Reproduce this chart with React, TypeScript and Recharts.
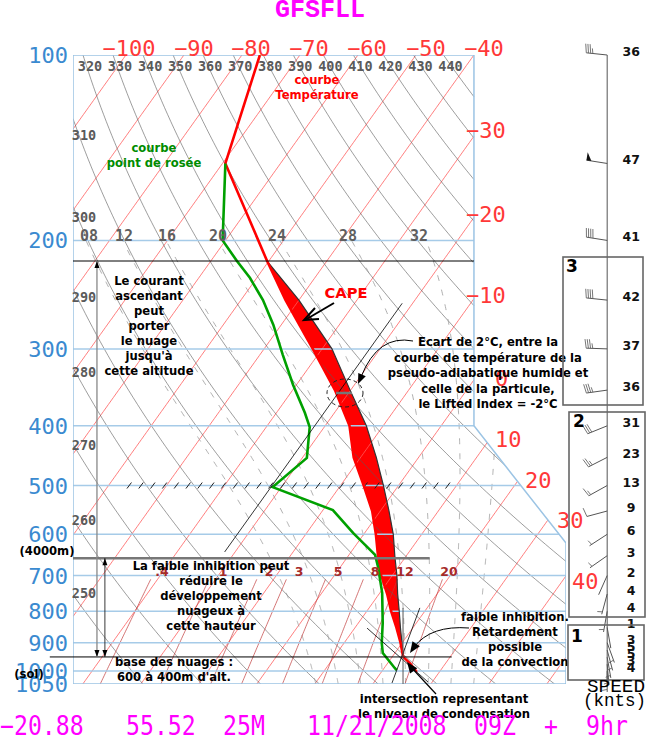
import React from "react";
import {
  ComposedChart,
  Line,
  Area,
  XAxis,
  YAxis,
  ReferenceLine,
  ReferenceDot,
} from "recharts";

const W = 647;
const H = 740;

// sounding (hPa, °C)
const tempP = [100, 150, 216, 250, 300, 350, 400, 450, 500, 550, 600, 650, 700, 750, 800, 850, 900, 949, 971, 1004];
const tempC = [-76.9, -69.5, -50.3, -42.3, -31.6, -22.7, -15.8, -11.2, -6.0, -1.4, 2.1, 5.1, 8.1, 11.4, 14.2, 17.1, 19.7, 21.9, 23.8, 26.1];
const dewP = [150, 200, 216, 230, 250, 274, 307, 343, 381, 402, 451, 503, 548, 597, 648, 678, 747, 836, 901, 935, 989, 997];
const dewC = [-69.5, -60.5, -55.5, -51.2, -46.2, -41.4, -36.0, -30.6, -25.1, -22.5, -19.2, -21.5, -8.3, -2.0, 4.5, 6.5, 10.4, 14.2, 16.5, 17.9, 21.8, 22.4];
// lifted parcel, LCL -> equilibrium level (same levels as tempP[2..17])
const parcelP = [216, 250, 300, 350, 400, 450, 500, 550, 600, 650, 700, 750, 800, 850, 900, 949];
const parcelC = [-50.3, -40.0, -28.3, -20.1, -12.9, -7.3, -2.6, 1.5, 5.1, 8.0, 10.8, 13.2, 15.6, 17.8, 19.95, 21.9];

// winds
const windP = [100, 150, 200, 250, 300, 350, 400, 450, 500, 550, 600, 650, 700, 750, 800, 850, 900, 925, 950, 975, 1000];
const windKt = [36, 47, 41, 42, 37, 36, 31, 23, 13, 9, 6, 3, 2, 4, 4, 1, 3, 5, 5, 3, 4];
const windDir = [276, 279, 279, 276, 272, 262, 248, 243, 241, 255, 237, 235, 204, 195, 190, 170, 160, 165, 170, 175, 180];

const pressureTicks = [100, 200, 300, 400, 500, 600, 700, 800, 900, 1000, 1050];
const isotherms = [-100, -90, -80, -70, -60, -50, -40, -30, -20, -10, 0, 10, 20, 30, 40, 50];
const dryThetas = [250, 260, 270, 280, 290, 300, 310, 320, 330, 340, 350, 360, 370, 380, 390, 400, 410, 420, 430, 440];
const moistThetaW = [8, 12, 16, 20, 24, 28, 32, 36];
const mixRatios = [0.4, 1, 2, 3, 5, 8, 12, 20];
const topIsoLabels = [-100, -90, -80, -70, -60, -50, -40];
const rightIsoLabels = [-30, -20, -10, 0, 10, 20, 30, 40];
const topDryLabels = [320, 330, 340, 350, 360, 370, 380, 390, 400, 410, 420, 430, 440];
const leftDryLabels = [310, 300, 290, 280, 270, 260, 250];
const moistLabels = ["08", "12", "16", "20", "24", "28", "32"];

const EL_P = 216;
const LCL_P = 949;
const H4000_P = 656;

// skewed x coordinate: equals the temperature at 1000 hPa
const SKEW = 32.93;
const X_MIN = -33.3;
const X_MAX = 51.7;
const X_R = 35.83;
const P_R1 = 400;
const P_R2 = 620;
const X_WIND = 58.8;

const skewX = (t: number, p: number) => t - SKEW * Math.log(p / 1000);

const rightBound = (p: number) => {
  if (p <= P_R1) return X_R;
  if (p >= P_R2) return X_MAX;
  return X_R + ((X_MAX - X_R) * Math.log(p / P_R1)) / Math.log(P_R2 / P_R1);
};

const inside = (q: { p: number; x: number }) =>
  q.p >= 99.999 && q.p <= 1050.001 && q.x >= X_MIN - 1e-9 && q.x <= rightBound(q.p) + 1e-9;

const logSpace = (a: number, b: number, n: number) =>
  Array.from({ length: n + 1 }, (_, i) => a * Math.pow(b / a, i / n));

// sample a background curve x = fn(p) and keep the parts inside the frame
function clipped(fn: (p: number) => number, pMin = 100, pMax = 1050, n = 180) {
  const ps = logSpace(pMin, pMax, n);
  const pt = (p: number) => ({ p, x: fn(p) });
  const edge = (pOut: number, pIn: number) => {
    let lo = 0;
    let hi = 1;
    for (let k = 0; k < 26; k++) {
      const m = (lo + hi) / 2;
      const q = pt(pOut * Math.pow(pIn / pOut, m));
      if (inside(q)) hi = m;
      else lo = m;
    }
    return pt(pOut * Math.pow(pIn / pOut, hi));
  };
  const segs: { p: number; x: number }[][] = [];
  let cur: { p: number; x: number }[] = [];
  ps.forEach((p, i) => {
    const q = pt(p);
    if (inside(q)) {
      if (!cur.length && i > 0) cur.push(edge(ps[i - 1], p));
      cur.push(q);
    } else if (cur.length) {
      cur.push(edge(p, ps[i - 1]));
      if (cur.length > 1) segs.push(cur);
      cur = [];
    }
  });
  if (cur.length > 1) segs.push(cur);
  return segs;
}

const satVap = (t: number) => 6.112 * Math.exp((17.67 * t) / (t + 243.5));
const dewFromMix = (w: number, p: number) => {
  const e = (w * p) / (622 + w);
  const l = Math.log(e / 6.112);
  return (243.5 * l) / (17.67 - l);
};
const moistLapse = (t: number, p: number) => {
  const T = t + 273.15;
  const es = satVap(t);
  const rs = (0.622 * es) / (p - es);
  const Lv = 2.501e6;
  return ((287.04 * T + Lv * rs) / p) / (1005.7 + (Lv * Lv * rs * 0.622) / (287.04 * T * T));
};
function moistPoints(thw: number) {
  const rk = (t: number, p: number, dp: number) => {
    const k1 = moistLapse(t, p);
    const k2 = moistLapse(t + (k1 * dp) / 2, p + dp / 2);
    return t + k2 * dp;
  };
  let t = thw;
  let p = 1000;
  while (p < 1050) {
    t = rk(t, p, 2);
    p += 2;
  }
  const pts: { p: number; x: number }[] = [];
  while (p >= 200) {
    pts.push({ p, x: skewX(t, p) });
    t = rk(t, p, -2);
    p -= 2;
  }
  const segs: { p: number; x: number }[][] = [];
  let cur: { p: number; x: number }[] = [];
  pts.forEach((q) => {
    if (inside(q)) cur.push(q);
    else if (cur.length) {
      if (cur.length > 1) segs.push(cur);
      cur = [];
    }
  });
  if (cur.length > 1) segs.push(cur);
  return segs;
}

const isoLines = isotherms.flatMap((T) => clipped((p) => skewX(T, p)));
const dryLines = dryThetas.flatMap((th) =>
  clipped((p) => skewX(th * Math.pow(p / 1000, 0.2857) - 273.15, p))
);
const mixLines = mixRatios.flatMap((w) => clipped((p) => skewX(dewFromMix(w, p), p), 710, 1050, 60));
const moistLines = moistThetaW.flatMap((t) => moistPoints(t));

const tempData = tempP.map((p, i) => ({ p, x: skewX(tempC[i], p) }));
const dewData = dewP.map((p, i) => ({ p, x: skewX(dewC[i], p) }));
const parcelData = parcelP.map((p, i) => ({ p, x: skewX(parcelC[i], p) }));
const capeData = parcelP.map((p, i) => ({ p, x: [skewX(tempC[i + 2], p), skewX(parcelC[i], p)] }));
const frameData = [
  { p: 100, x: X_MIN },
  { p: 100, x: X_R },
  { p: P_R1, x: X_R },
  { p: P_R2, x: X_MAX },
  { p: 1050, x: X_MAX },
  { p: 1050, x: X_MIN },
  { p: 100, x: X_MIN },
];

const MONO = "'DejaVu Sans Mono', monospace";
const SANS = "'DejaVu Sans', sans-serif";
const COURIER = "'Liberation Mono', monospace";
const BLUE = "#3a8ad0";
const ISO_RED = "#ff3838";

const PressureTick = (props: any) => (
  <text x={68} y={props.y + 8} textAnchor="end" fontFamily={MONO} fontSize={22} fill={BLUE}>
    {props.payload.value}
  </text>
);

function Barb({ cx, cy, speed, dir }: any) {
  const a = (dir * Math.PI) / 180;
  const ux = Math.sin(a);
  const uy = -Math.cos(a);
  const bx = -uy;
  const by = ux;
  const L = 21;
  const ex = cx + ux * L;
  const ey = cy + uy * L;
  let units = Math.round(speed / 5);
  const parts: any[] = [
    <line key="s" x1={cx} y1={cy} x2={ex} y2={ey} stroke="#555" strokeWidth={1} />,
  ];
  let d = 0;
  if (units >= 9) {
    parts.push(
      <polygon
        key="f"
        points={`${ex},${ey} ${ex - ux * 5},${ey - uy * 5} ${ex + bx * 8},${ey + by * 8}`}
        fill="#111"
      />
    );
    units -= 10;
    d = 6;
  }
  let k = 0;
  while (units >= 2) {
    const sx = ex - ux * d;
    const sy = ey - uy * d;
    parts.push(
      <line key={"b" + k++} x1={sx} y1={sy} x2={sx + bx * 9 + ux * 1.5} y2={sy + by * 9 + uy * 1.5} stroke="#666" strokeWidth={0.9} />
    );
    d += 2.2;
    units -= 2;
  }
  if (units === 1) {
    const dd = d === 0 ? 2.5 : d;
    const sx = ex - ux * dd;
    const sy = ey - uy * dd;
    parts.push(
      <line key="h" x1={sx} y1={sy} x2={sx + bx * 5 + ux * 1} y2={sy + by * 5 + uy * 1} stroke="#666" strokeWidth={0.9} />
    );
  }
  return (
    <g>
      {parts}
      <text x={cx + 24} y={cy + 1} textAnchor="middle" fontFamily={SANS} fontWeight="bold" fontSize={12.5} fill="#111">
        {speed}
      </text>
    </g>
  );
}

const arrowSeg = (color: string, w: number) => (props: any) => {
  const { x1, y1, x2, y2 } = props;
  return (
    <g>
      <line x1={x1} y1={y1} x2={x2} y2={y2} stroke={color} strokeWidth={w} />
      <polygon points={`${x1},${y1} ${x1 - 2.5},${y1 + 7} ${x1 + 2.5},${y1 + 7}`} fill="#000" />
      <polygon points={`${x2},${y2} ${x2 - 2.5},${y2 - 7} ${x2 + 2.5},${y2 - 7}`} fill="#000" />
    </g>
  );
};

const hatchSeg = (props: any) => {
  const { x1, y1, x2 } = props;
  const n = Math.floor((x2 - x1) / 11.8);
  return (
    <g>
      {Array.from({ length: n + 1 }, (_, i) => (
        <line key={i} x1={x1 + i * 11.8} y1={y1 + 3} x2={x1 + i * 11.8 + 4.5} y2={y1 - 3} stroke="#222" strokeWidth={1} />
      ))}
    </g>
  );
};

function Head({ x, y, ang, size = 10 }: any) {
  const a1 = ang + Math.PI - 0.38;
  const a2 = ang + Math.PI + 0.38;
  return (
    <polygon
      points={`${x},${y} ${x + size * Math.cos(a1)},${y + size * Math.sin(a1)} ${x + size * Math.cos(a2)},${y + size * Math.sin(a2)}`}
      fill="#000"
    />
  );
}

function Lines({ x, lines, size = 11.6, color = "#000", baselines }: any) {
  return (
    <g fontFamily={SANS} fontWeight="bold" fontSize={size} fill={color} textAnchor="middle">
      {lines.map((s: string, i: number) => (
        <text key={i} x={x} y={baselines[0] + i * (baselines[1] ?? 15)}>
          {s}
        </text>
      ))}
    </g>
  );
}

export default function App() {
  const topIsoX = [129, 194, 251, 309, 367, 426, 484];
  const rightIsoPos = [
    [466, 138], [466, 222], [466, 303], [495, 386], [495, 447], [525, 488], [557, 528], [572, 589],
  ];
  const leftDryY = [140, 222, 302, 377, 450, 525, 598];
  const moistX = [89, 124, 167, 218, 277, 348, 419];
  const mixX = [162, 223, 269, 299, 338, 375, 405, 449];
  const plotPx = (x: number) => 73 + ((x - X_MIN) / (X_MAX - X_MIN)) * 493;
  const bottom = [
    ["\u221220.88", 0],
    ["55.52", 126],
    ["25M", 223],
    ["11/21/2008", 307],
    ["09Z", 474],
    ["+", 544],
    ["9hr", 586],
  ];

  return (
    <div style={{ position: "absolute", left: 0, top: 0, width: W, height: H, background: "#fff" }}>
      <ComposedChart width={W} height={H} layout="vertical" margin={{ top: 55, right: 81, bottom: 56, left: 0 }}>
        <XAxis type="number" domain={[X_MIN, X_MAX]} hide allowDataOverflow />
        <YAxis
          type="number"
          dataKey="p"
          scale="log"
          domain={[100, 1050]}
          ticks={pressureTicks}
          interval={0}
          width={73}
          axisLine={false}
          tickLine={false}
          allowDataOverflow
          tick={<PressureTick />}
        />
        {isoLines.map((d, i) => (
          <Line key={"iso" + i} data={d} dataKey="x" stroke="#ff5c5c" strokeWidth={0.8} dot={false} activeDot={false} isAnimationActive={false} />
        ))}
        {dryLines.map((d, i) => (
          <Line key={"dry" + i} data={d} dataKey="x" stroke="#5a5a5a" strokeWidth={0.6} dot={false} activeDot={false} isAnimationActive={false} />
        ))}
        {moistLines.map((d, i) => (
          <Line key={"moist" + i} data={d} dataKey="x" stroke="#9a9a9a" strokeWidth={0.8} strokeDasharray="6 9" dot={false} activeDot={false} isAnimationActive={false} />
        ))}
        {mixLines.map((d, i) => (
          <Line key={"mix" + i} data={d} dataKey="x" stroke="#c03a3a" strokeWidth={0.7} dot={false} activeDot={false} isAnimationActive={false} />
        ))}
        {pressureTicks.slice(1, -1).map((p) => (
          <ReferenceLine
            key={"h" + p}
            segment={[{ x: X_MIN, y: p }, { x: rightBound(p), y: p }]}
            stroke="#a6cbe8"
            strokeWidth={1.5}
            ifOverflow="visible"
          />
        ))}
        <Line data={frameData} dataKey="x" stroke="#9cc4e4" strokeWidth={1.5} dot={false} activeDot={false} isAnimationActive={false} />
        <ReferenceLine segment={[{ x: -24.0, y: 500 }, { x: 32.9, y: 500 }]} shape={hatchSeg} ifOverflow="visible" />
        <Area data={capeData} dataKey="x" fill="#ff0000" fillOpacity={1} stroke="none" isAnimationActive={false} />
        <Line data={parcelData} dataKey="x" stroke="#333" strokeWidth={1.2} dot={false} activeDot={false} isAnimationActive={false} />
        <Line data={tempData} dataKey="x" stroke="#ff0000" strokeWidth={2.6} dot={false} activeDot={false} isAnimationActive={false} />
        <Line data={dewData} dataKey="x" stroke="#00a000" strokeWidth={2.6} dot={false} activeDot={false} isAnimationActive={false} />

        <ReferenceLine segment={[{ x: X_MIN, y: EL_P }, { x: X_R, y: EL_P }]} stroke="#000" strokeWidth={1} ifOverflow="visible" />
        <ReferenceLine segment={[{ x: X_MIN, y: H4000_P }, { x: 28.2, y: H4000_P }]} stroke="#777" strokeWidth={2.5} ifOverflow="visible" />
        <ReferenceLine segment={[{ x: -37.3, y: LCL_P }, { x: 32.0, y: LCL_P }]} stroke="#000" strokeWidth={1} ifOverflow="visible" />
        <ReferenceLine segment={[{ x: skewX(-21.8, 253), y: 253 }, { x: skewX(-21.8, 641), y: 641 }]} stroke="#000" strokeWidth={0.8} ifOverflow="visible" />
        <ReferenceLine segment={[{ x: 17.4, y: 852 }, { x: 27.9, y: 1042 }]} stroke="#000" strokeWidth={0.8} ifOverflow="visible" />
        <ReferenceLine segment={[{ x: 26.5, y: 790 }, { x: 21.7, y: 1046 }]} stroke="#000" strokeWidth={0.8} ifOverflow="visible" />
        <ReferenceLine segment={[{ x: 23.6, y: 790 }, { x: 23.6, y: 1050 }]} stroke="#555" strokeWidth={1} ifOverflow="visible" />
        <ReferenceLine segment={[{ x: -29.17, y: EL_P }, { x: -29.17, y: LCL_P }]} shape={arrowSeg("#888", 1.3)} ifOverflow="visible" />
        <ReferenceLine segment={[{ x: -27.8, y: H4000_P }, { x: -27.8, y: LCL_P }]} shape={arrowSeg("#222", 0.9)} ifOverflow="visible" />

        <ReferenceLine segment={[{ x: X_WIND, y: 100 }, { x: X_WIND, y: 1040 }]} stroke="#555" strokeWidth={1} ifOverflow="visible" />
        {windP.map((p, i) => (
          <ReferenceDot
            key={"w" + p}
            x={X_WIND}
            y={p}
            r={0}
            ifOverflow="visible"
            shape={(props: any) => <Barb cx={props.cx} cy={props.cy} speed={windKt[i]} dir={windDir[i]} />}
          />
        ))}
      </ComposedChart>

      <svg width={W} height={H} style={{ position: "absolute", left: 0, top: 0, pointerEvents: "none" }}>
        <text x={320} y={17} textAnchor="middle" fontFamily={COURIER} fontWeight="bold" fontSize={25} fill="#ff00ff">
          GFSFLL
        </text>

        <g fontFamily={MONO} fontSize={22} fill={ISO_RED}>
          {topIsoLabels.map((t, i) => (
            <text key={t} x={topIsoX[i]} y={56} textAnchor="middle">
              {"\u2212" + Math.abs(t)}
            </text>
          ))}
          {rightIsoLabels.map((t, i) => (
            <text key={t} x={rightIsoPos[i][0]} y={rightIsoPos[i][1]}>
              {t < 0 ? "\u2212" + Math.abs(t) : String(t)}
            </text>
          ))}
        </g>

        <g fontFamily={MONO} fontWeight="bold" fontSize={13.5} fill="#5a5a5a" textAnchor="middle">
          {topDryLabels.map((th) => (
            <text key={th} x={plotPx(skewX(th * Math.pow(0.1, 0.2857) - 273.15, 100)) + 7} y={71}>
              {th}
            </text>
          ))}
          {leftDryLabels.map((th, i) => (
            <text key={th} x={84} y={leftDryY[i]}>
              {th}
            </text>
          ))}
        </g>
        <g fontFamily={MONO} fontWeight="bold" fontSize={15} fill="#5f5f5f" textAnchor="middle">
          {moistLabels.map((s, i) => (
            <text key={s} x={moistX[i]} y={241}>
              {s}
            </text>
          ))}
        </g>
        <g fontFamily={SANS} fontWeight="bold" fontSize={12.5} fill="#a52a2a" textAnchor="middle">
          {mixRatios.map((w, i) => (
            <text key={w} x={mixX[i]} y={576}>
              {w < 1 ? "." + Math.round(w * 10) : String(w)}
            </text>
          ))}
        </g>

        <Lines x={317} lines={["courbe", "Température"]} color="#ff0000" baselines={[84, 15]} />
        <Lines x={154} lines={["courbe", "point de rosée"]} color="#008c00" baselines={[152, 15]} />
        <Lines
          x={149}
          lines={["Le courant", "ascendant", "peut", "porter", "le nuage", "jusqu'à", "cette altitude"]}
          baselines={[285, 15]}
        />
        <Lines x={346} lines={["CAPE"]} size={14.7} color="#ff0000" baselines={[298, 15]} />
        <Lines
          x={488}
          lines={[
            "Ecart de 2°C, entre la",
            "courbe de température de la",
            "pseudo-adiabatique humide et",
            "celle de la particule,",
            "le Lifted Index = -2°C",
          ]}
          baselines={[346, 15.5]}
        />
        <Lines
          x={211}
          lines={["La faible inhibition peut", "réduire le", "développement", "nuageux à", "cette hauteur"]}
          baselines={[570, 15]}
        />
        <Lines x={174} lines={["base des nuages :", "600 à 400m d'alt."]} baselines={[666, 15]} />
        <Lines
          x={515}
          lines={["faible inhibition.", "Retardement", "possible", "de la convection"]}
          baselines={[621, 15]}
        />
        <Lines x={444} lines={["intersection representant", "le niveau de condensation"]} baselines={[703, 15]} />
        <Lines x={47} lines={["(4000m)"]} baselines={[555, 15]} />
        <Lines x={29} lines={["(sol)"]} baselines={[678, 15]} />

        {/* arrows */}
        <line x1={334} y1={303} x2={305} y2={320} stroke="#000" strokeWidth={2} />
        <polyline points="315,308 304,320 319,319" fill="none" stroke="#000" strokeWidth={2} />
        <path d="M 413 341 Q 378 334 361 377" fill="none" stroke="#000" strokeWidth={1} />
        <Head x={358} y={384} ang={Math.atan2(7, -3)} size={11} />
        <path d="M 469 628 Q 431 625 414 647" fill="none" stroke="#000" strokeWidth={1} />
        <Head x={410} y={653} ang={Math.atan2(6, -4)} size={12} />
        <line x1={436} y1={694} x2={410} y2={666} stroke="#000" strokeWidth={1.2} />
        <Head x={407} y={662} ang={Math.atan2(-4, -3)} size={12} />
        <ellipse cx={345} cy={393} rx={18} ry={14} fill="none" stroke="#222" strokeWidth={1} strokeDasharray="4 3" />
        <line x1={336} y1={393} x2={352} y2={393} stroke="#777" strokeWidth={2.5} />

        {/* wind layers */}
        <g fill="none" stroke="#666" strokeWidth={1.6}>
          <rect x={563} y={257} width={80} height={148} />
          <rect x={569} y={412} width={76} height={205} />
          <rect x={568} y={625} width={76} height={55} />
        </g>
        <g fontFamily={SANS} fontWeight="bold" fontSize={17} fill="#000">
          <text x={566} y={272}>3</text>
          <text x={573} y={427}>2</text>
          <text x={571} y={642}>1</text>
        </g>
        <text x={587} y={692} fontFamily={COURIER} fontSize={19} fill="#000" textLength={58} lengthAdjust="spacingAndGlyphs">
          SPEED
        </text>
        <text x={583} y={706} fontFamily={COURIER} fontSize={19} fill="#000" textLength={63} lengthAdjust="spacingAndGlyphs">
          (knts)
        </text>

        <g fontFamily={MONO} fontSize={27} fill="#ff00ff">
          {bottom.map(([s, x]) => (
            <text key={String(s)} x={x as number} y={735} textLength={String(s).length * 13.95} lengthAdjust="spacingAndGlyphs">
              {s}
            </text>
          ))}
        </g>
      </svg>
    </div>
  );
}
